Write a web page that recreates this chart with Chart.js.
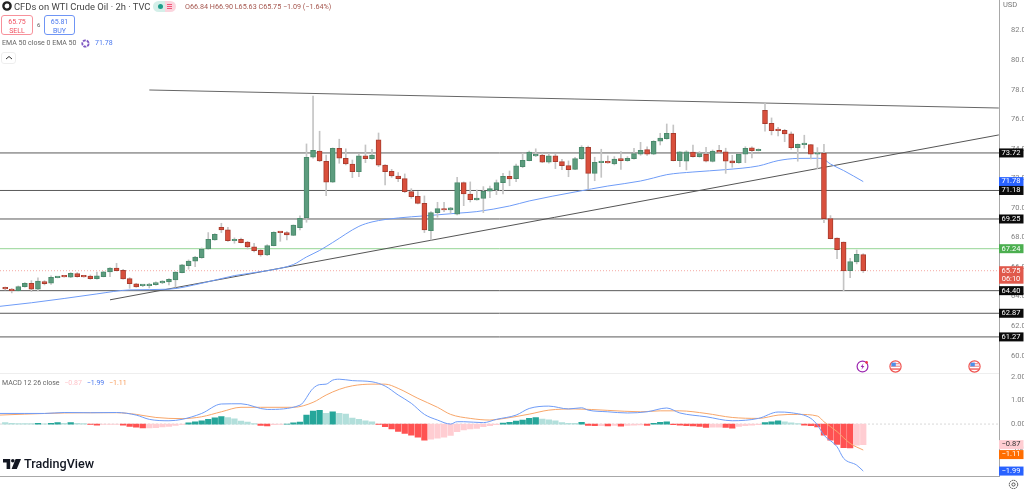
<!DOCTYPE html>
<html>
<head>
<meta charset="utf-8">
<title>CFDs on WTI Crude Oil</title>
<script src="https://cdn.jsdelivr.net/npm/chart.js@4"></script>
<style>
    html, body { margin: 0; padding: 0; background: #fff; overflow: hidden; }
    #page { position: relative; width: 1024px; height: 489px; font-family: Roboto, sans-serif; color: #555; }
    canvas { position: absolute; left: 0; }
    #priceChart { top: 0; }
    #macdChart { top: 374px; }
    .txt { position: absolute; white-space: nowrap; line-height: 1; }
    .box { position: absolute; box-sizing: border-box; border-radius: 3px; text-align: center; line-height: 1; background: #fff; }
    .icon { position: absolute; }
</style>
</head>
<body>
<div id="page">
    <canvas id="priceChart" width="1024" height="374"></canvas>
    <canvas id="macdChart" width="1024" height="115"></canvas>

    <div style="position:absolute;left:0;top:373px;width:999px;height:1px;background:#eeeeee"></div>

    <svg class="icon" style="left:2px;top:1px" width="10" height="10"><circle cx="5" cy="5" r="3.6" fill="#fff" stroke="#222" stroke-width="2.4"/></svg>
    <div class="txt" style="left:14px;top:2px;font-size:9.4px;color:#444">CFDs on WTI Crude Oil · 2h · TVC</div>
    <div style="position:absolute;left:153px;top:1px;width:23px;height:11px;border-radius:6px;background:linear-gradient(90deg,#d4efe9 50%,#fbd5de 50%)"></div>
    <div style="position:absolute;left:158px;top:4px;width:5px;height:5px;border-radius:50%;background:#1f9d8b"></div>
    <div style="position:absolute;left:167px;top:4px;width:5px;height:1px;background:#f2557a;box-shadow:0 2px 0 #f2557a,0 4px 0 #f2557a"></div>
    <div class="txt" style="left:185px;top:3px;font-size:7.2px;color:#a5564e">O66.84 H66.90 L65.63 C65.75 −1.09 (−1.64%)</div>

    <div class="box" style="left:1px;top:15px;width:32px;height:20px;border:1px solid #f7919b;color:#f0505f;font-size:7px;padding-top:3px">65.75<br><span style="display:block;margin-top:2px">SELL</span></div>
    <div class="txt" style="left:37px;top:22px;font-size:6px;color:#555">6</div>
    <div class="box" style="left:44px;top:15px;width:31px;height:20px;border:1px solid #6f95f5;color:#4a78ee;font-size:7px;padding-top:3px">65.81<br><span style="display:block;margin-top:2px">BUY</span></div>

    <div class="txt" style="left:2px;top:40px;font-size:7px;color:#666">EMA 50 close 0 EMA 50</div>
    <svg class="icon" style="left:80px;top:38px" width="11" height="11"><circle cx="5.5" cy="5.5" r="3.2" fill="none" stroke="#7e57c2" stroke-width="1.8" stroke-dasharray="3 1"/></svg>
    <div class="txt" style="left:95px;top:40px;font-size:7px;color:#4a78ee">71.78</div>
    <div class="box" style="left:1px;top:52px;width:15px;height:12px;border:1px solid #eeeeee"></div>
    <svg class="icon" style="left:5px;top:55px" width="8" height="6"><path d="M1 4 L4 1.5 L7 4" fill="none" stroke="#333" stroke-width="1"/></svg>

    <div class="txt" style="left:1003px;top:1px;font-size:7.5px;color:#777">USD</div>

    <svg class="icon" style="left:856px;top:360px" width="13" height="13"><circle cx="6.5" cy="6.5" r="5.4" fill="#fff" stroke="#9c27b0" stroke-width="1.2"/><path d="M7.5 3.2 L4.6 7 L6.4 7 L5.4 9.8 L8.4 6 L6.6 6 Z" fill="#9c27b0"/><circle cx="10.6" cy="2.4" r="1.3" fill="#f23645"/></svg>
    <svg class="icon" style="left:889px;top:360px" width="13" height="13"><circle cx="6.5" cy="6.5" r="5.6" fill="#fff" stroke="#ef5350" stroke-width="1.2"/><rect x="2" y="3" width="9" height="1.3" fill="#ef9a9a"/><rect x="2" y="5.6" width="9" height="1.3" fill="#ef9a9a"/><rect x="2" y="8.4" width="9" height="1.3" fill="#ef5350"/><rect x="2.4" y="2.6" width="4.4" height="3.8" fill="#4f8fe8"/></svg>
    <svg class="icon" style="left:968px;top:360px" width="13" height="13"><circle cx="6.5" cy="6.5" r="5.6" fill="#fff" stroke="#ef5350" stroke-width="1.2"/><rect x="2" y="3" width="9" height="1.3" fill="#ef9a9a"/><rect x="2" y="5.6" width="9" height="1.3" fill="#ef9a9a"/><rect x="2" y="8.4" width="9" height="1.3" fill="#ef5350"/><rect x="2.4" y="2.6" width="4.4" height="3.8" fill="#4f8fe8"/></svg>

    <svg class="icon" style="left:3px;top:459px" width="18" height="11"><path d="M0 0 H7.2 V10 H3.6 V3.6 H0 Z" fill="#131722"/><circle cx="9.8" cy="1.8" r="1.8" fill="#131722"/><path d="M12.6 0 H18 L13.8 10 H8.6 Z" fill="#131722"/></svg>
    <div class="txt" style="left:24px;top:458px;font-size:12.6px;font-weight:500;color:#131722">TradingView</div>

    <svg class="icon" style="left:1008px;top:479px" width="11" height="11"><circle cx="5.5" cy="5.5" r="4.2" fill="none" stroke="#444" stroke-width="1" stroke-dasharray="1.6 .6"/><circle cx="5.5" cy="5.5" r="1.6" fill="none" stroke="#444" stroke-width=".9"/></svg>
</div>

<script>
// Candles, one per 2h bar
const opens = [
    64.58,64.50,64.40,64.67,64.90,64.50,65.01,64.90,65.28,65.35,
    65.31,65.55,65.38,65.38,65.21,65.35,65.67,65.92,65.78,65.21,
    64.87,64.74,64.74,64.81,64.92,64.99,65.13,65.62,66.09,66.39,
    66.63,67.22,67.83,68.69,68.51,67.78,67.88,67.68,67.36,67.14,
    66.82,67.45,68.37,68.33,68.14,68.66,69.32,73.43,73.85,73.16,
    71.74,74.04,73.36,72.97,72.45,73.52,73.33,74.60,72.89,72.48,
    72.16,71.98,71.10,70.79,70.31,68.46,69.68,69.95,69.86,69.57,
    71.71,70.94,70.54,70.65,71.13,71.24,71.71,72.14,71.98,72.79,
    73.20,73.52,73.58,73.09,73.52,73.13,72.86,72.61,73.33,74.10,
    72.34,73.06,73.16,72.97,73.33,73.20,73.33,73.63,73.94,73.63,
    74.51,74.69,75.05,73.20,73.16,73.77,73.47,73.65,73.14,73.90,
    73.79,73.18,73.06,73.63,74.06,73.87,76.61,75.73,75.27,75.25,
    75.02,74.08,74.28,74.28,73.63,73.70,69.27,67.95,67.68,65.75,66.34,66.84
];
const closes = [
    64.52,64.40,64.67,64.90,64.50,65.04,64.87,65.31,65.33,65.33,
    65.58,65.35,65.33,65.21,65.40,65.67,65.92,65.75,65.19,64.87,
    64.65,64.77,64.83,64.94,65.04,65.17,65.65,66.14,66.41,66.68,
    67.22,67.88,68.22,68.51,67.78,67.88,67.65,67.36,67.11,66.82,
    67.45,68.35,68.33,68.17,68.83,69.30,73.43,73.90,73.18,71.74,
    74.04,73.36,72.97,72.45,73.52,73.33,73.58,72.89,72.45,72.16,
    71.98,71.10,70.76,70.31,68.51,69.68,69.95,69.86,70.00,71.71,
    70.94,70.56,70.67,71.13,71.30,71.71,72.14,71.96,72.84,73.22,
    73.77,73.58,73.09,73.52,73.13,72.86,72.59,73.33,74.10,72.34,
    73.09,73.16,73.04,73.31,73.20,73.36,73.67,73.90,73.63,74.51,
    74.73,75.05,73.20,73.79,73.79,73.47,73.67,73.16,73.84,73.77,
    73.16,73.04,73.65,74.04,73.87,73.97,75.70,75.23,75.23,75.00,
    74.08,74.31,74.35,73.63,73.72,69.27,67.92,67.18,65.73,66.36,66.86,65.75
];
const highs = [
    64.65,64.55,64.72,64.94,65.08,65.26,65.08,65.40,65.35,65.36,
    65.62,65.62,65.40,65.46,65.65,65.70,65.96,66.25,65.85,65.28,
    64.90,64.79,64.90,64.99,65.08,65.21,65.69,66.19,66.48,66.73,
    67.29,68.33,68.26,68.96,68.69,67.97,67.95,67.74,67.61,67.18,
    67.51,68.39,68.39,68.39,68.85,69.46,74.33,77.57,75.19,73.58,
    74.06,74.65,74.00,73.24,73.65,74.26,73.97,75.07,72.93,72.61,
    72.39,72.30,71.30,71.10,70.81,69.75,70.38,70.38,70.03,72.07,
    71.76,71.76,71.21,71.44,71.48,71.89,72.34,72.50,72.97,73.70,
    73.85,74.00,73.70,73.70,73.63,73.29,73.18,73.43,74.21,74.19,
    73.43,73.97,73.52,73.47,73.81,73.47,74.04,74.44,74.14,74.55,
    75.05,75.68,75.61,73.81,73.87,74.26,73.81,74.10,73.92,74.24,
    74.04,73.56,73.65,74.14,74.14,74.00,77.08,76.09,75.46,75.32,
    75.14,74.33,74.92,74.31,74.08,74.31,69.48,67.97,67.70,66.59,67.15,66.90
];
const lows = [
    64.45,64.25,64.38,64.63,64.33,64.38,64.79,64.83,65.26,65.31,
    65.28,65.31,65.31,65.17,65.17,65.33,65.35,65.73,65.17,64.56,
    64.63,64.67,64.58,64.77,64.87,64.79,64.63,65.60,65.85,66.03,
    66.59,67.20,67.81,68.33,67.74,67.61,67.63,67.22,67.02,66.73,
    66.77,67.43,67.74,67.83,68.12,68.51,69.03,73.36,73.13,70.83,
    71.72,73.02,72.91,72.05,72.11,73.06,73.29,72.79,71.55,72.07,
    71.78,71.03,70.65,70.27,68.33,67.83,69.37,69.75,69.64,69.52,
    70.15,70.40,70.52,69.68,70.69,70.90,70.94,71.50,71.78,72.72,
    73.18,73.47,73.06,73.02,72.66,72.59,72.11,72.59,73.29,71.26,
    71.84,72.07,73.02,72.91,72.61,73.16,73.29,73.56,73.56,73.60,
    74.26,74.65,73.18,72.79,72.57,73.43,73.43,73.11,73.11,73.74,
    72.34,72.75,73.02,73.06,73.38,73.85,75.19,74.94,74.87,74.48,
    73.97,73.16,74.04,73.31,72.64,69.00,67.90,66.57,64.40,65.28,66.21,65.63
];

// EMA 50, read at these bars
const emaBars = [-1,4,9,14,19,25,30,35,40,44,46,48,50,54,56,60,64,69,72,77,80,87,92,97,99,101,105,110,115,118,121,124,125,126,128,131];
const emaValues = [63.33,63.58,63.87,64.18,64.45,64.50,64.90,65.42,65.75,66.17,66.68,67.12,67.66,68.75,69.05,69.32,69.46,69.64,69.75,70.13,70.47,71.08,71.48,71.82,72.03,72.25,72.43,72.59,72.84,73.20,73.35,73.36,73.28,72.97,72.53,71.78];

// Drawn levels and trend lines
const blackLevels = [73.72, 71.18, 69.25, 64.40, 62.87, 61.27];
const greenLevel = 67.24;
const lastClose = 65.75;
const emaLast = 71.78;
const upperTrendBars = [22, 151.7];
const upperTrendPrices = [77.98, 76.76];
const lowerTrendBars = [16, 151.7];
const lowerTrendPrices = [63.78, 74.94];

// MACD pane
const histValues = [
    .06,.03,.02,.02,.02,.03,.01,.03,.06,.03,
    .06,.03,.02,-.02,-.05,-.02,-.01,-.01,-.05,-.1,
    -.13,-.16,-.16,-.15,-.12,-.1,-.06,-.02,.05,.1,
    .14,.2,.26,.32,.27,.22,.13,.08,.02,-.06,
    -.08,-.03,-.02,0,.05,.08,.38,.55,.58,.45,
    .52,.46,.42,.25,.2,.14,.09,-.02,-.11,-.21,
    -.31,-.4,-.47,-.56,-.68,-.64,-.6,-.56,-.48,-.32,
    -.25,-.21,-.18,-.11,-.07,-.03,.04,.07,.13,.17,
    .24,.27,.21,.18,.14,.06,.03,.03,.07,-.06,
    -.07,-.07,-.08,-.06,-.09,-.06,-.05,-.04,-.06,.03,
    .07,.1,-.03,-.05,-.07,-.08,-.1,-.14,-.13,-.13,
    -.14,-.17,-.1,-.07,-.05,-.03,.06,.1,.14,.09,
    .05,.02,-.05,-.07,-.12,-.47,-.68,-.86,-1.0,-1.01,-.89,-.87
];
const macdBars = [-1,3,6,9,13,17,20,22,25,27,30,33,36,40,45,47,48,49,50,51,53,56,58,60,62,64,66,68,69,70,73,75,78,80,83,86,88,89,92,95,98,101,103,107,111,115,118,120,123,124,125,127,128,130,131];
const macdValues = [.45,.45,.45,.49,.48,.49,.38,.2,.14,.2,.45,.85,.86,.62,.8,1.51,1.67,1.69,1.86,1.9,1.84,1.79,1.61,1.23,.88,.41,.17,0,.1,.1,.06,.2,.38,.66,.76,.64,.69,.59,.52,.47,.52,.68,.47,.31,.14,.24,.51,.48,.24,-.04,-.47,-.96,-1.45,-1.74,-1.99];
const signalBars = [-1,3,9,15,17,20,23,27,30,33,36,39,44,47,49,51,53,56,58,60,63,66,68,71,74,76,80,83,87,92,97,100,103,107,111,115,118,121,124,125,127,129,131];
const signalValues = [.38,.42,.47,.48,.48,.41,.28,.23,.31,.52,.71,.71,.71,.92,1.23,1.47,1.62,1.69,1.69,1.51,1.09,.71,.41,.24,.17,.23,.42,.59,.64,.58,.52,.56,.56,.45,.28,.24,.38,.41,.34,.1,-.32,-.82,-1.1];

// Time axis labels and the bars they sit on
const tickBars = [4,10,16,22,28,34,40,46,52,57,64,70,76,82,88,94,100,105,111,116,123,129,135,141,147];
const tickNames = ['12:00','10','12:00','11','12:00','12','12:00','13','12:00','15','12:00','17','12:00','18','12:00','19','12:00','20','12:00','22','12:00','24','12:00','25','12:00'];

const FIRST_BAR = -0.794;
const LAST_BAR = 151.725;
const tickFont = { family: 'Roboto', size: 7.5 };

function points(bars, values) {
    return bars.map(function (b, i) { return { x: b, y: values[i] }; });
}

function lineSet(data, color, width, extra) {
    return Object.assign({
        type: 'line',
        data: data,
        borderColor: color,
        borderWidth: width,
        pointRadius: 0,
        order: 3
    }, extra || {});
}

function levelLine(value, color, extra) {
    return lineSet(points([FIRST_BAR, LAST_BAR], [value, value]), color, 1, extra);
}

// Price and indicator tags on the right axis
function tagPlugin(scaleId, tags) {
    return {
        id: 'tags' + scaleId,
        afterDraw: function (chart) {
            const ctx = chart.ctx;
            const scale = chart.scales[scaleId];
            tags.forEach(function (t) {
                const h = t.second ? 17.5 : 9;
                const y = scale.getPixelForValue(t.value) + (t.shift || 0);
                ctx.fillStyle = t.bg;
                ctx.fillRect(999, y - 4.5, 24.5, h);
                ctx.fillStyle = t.fg;
                ctx.font = '7.5px Roboto';
                ctx.textAlign = 'center';
                ctx.textBaseline = 'middle';
                ctx.fillText(t.label, 1011, y);
                if (t.second) ctx.fillText(t.second, 1011, y + 8.5);
            });
        }
    };
}

function rightAxis(min, max, step) {
    return {
        position: 'right',
        min: min,
        max: max,
        grid: { display: false },
        border: { display: true, color: '#a8a8a8' },
        afterBuildTicks: function (s) {
            // keep ticks off the very top of the pane
            s.ticks = s.ticks.filter(function (t) { return t.value < 84; });
        },
        ticks: {
            stepSize: step,
            includeBounds: false,
            padding: 4,
            color: '#808080',
            font: tickFont,
            callback: function (v) { return v.toFixed(2); }
        },
        afterFit: function (s) {
            s.width = 25;
            s.paddingTop = 0;
            s.paddingBottom = 0;
        }
    };
}

const baseOptions = {
    responsive: false,
    animation: false,
    events: [],
    layout: { padding: 0 },
    plugins: { legend: { display: false }, tooltip: { enabled: false } }
};

// Main pane
new Chart(document.getElementById('priceChart'), {
    type: 'bar',
    data: {
        datasets: [
            {
                data: opens.map(function (o, i) { return { x: i, y: [Math.min(o, closes[i]), Math.max(o, closes[i])] }; }),
                grouped: false,
                barThickness: 5,
                backgroundColor: opens.map(function (o, i) { return closes[i] >= o ? '#5c9c7e' : '#d94f3c'; }),
                borderColor: opens.map(function (o, i) { return closes[i] >= o ? '#4b8a6c' : '#a83c2e'; }),
                borderWidth: 1,
                borderSkipped: false,
                minBarLength: 1.5,
                order: 1
            },
            {
                data: opens.map(function (o, i) { return { x: i, y: [lows[i], highs[i]] }; }),
                grouped: false,
                barThickness: 1,
                backgroundColor: '#c4c4c4',
                order: 2
            },
            lineSet(points(emaBars, emaValues), '#6f9cf7', 1, { cubicInterpolationMode: 'monotone' }),
            lineSet(points(upperTrendBars, upperTrendPrices), '#666666', 1),
            lineSet(points(lowerTrendBars, lowerTrendPrices), '#555555', 1),
            levelLine(greenLevel, '#95d695'),
            levelLine(lastClose, '#f5a9a2', { borderDash: [1, 2] })
        ].concat(blackLevels.map(function (v) { return levelLine(v, '#5a5a5a', { borderWidth: 1 }); }))
    },
    options: Object.assign({}, baseOptions, {
        scales: {
            x: { type: 'linear', display: false, offset: false, min: FIRST_BAR, max: LAST_BAR },
            y: rightAxis(58.76, 84.07, 2)
        }
    }),
    plugins: [tagPlugin('y', [
        { value: 73.72, label: '73.72', bg: '#0b0b0b', fg: '#fff' },
        { value: emaLast, label: '71.78', bg: '#2962ff', fg: '#fff' },
        { value: 71.18, label: '71.18', bg: '#0b0b0b', fg: '#fff' },
        { value: 69.25, label: '69.25', bg: '#0b0b0b', fg: '#fff' },
        { value: greenLevel, label: '67.24', bg: '#4caf50', fg: '#fff' },
        { value: lastClose, label: '65.75', second: '06:10', bg: '#e0594c', fg: '#fff' },
        { value: 64.40, label: '64.40', bg: '#0b0b0b', fg: '#fff' },
        { value: 62.87, label: '62.87', bg: '#0b0b0b', fg: '#fff' },
        { value: 61.27, label: '61.27', bg: '#0b0b0b', fg: '#fff' }
    ])]
});

// MACD pane, bar colours follow rising or falling histogram
function histColor(v, i) {
    const prev = i > 0 ? histValues[i - 1] : v;
    if (v >= 0) return v > prev ? '#26a69a' : '#b2dfdb';
    return v < prev ? '#ff5252' : '#ffcdd2';
}

new Chart(document.getElementById('macdChart'), {
    type: 'bar',
    data: {
        datasets: [
            {
                data: histValues.map(function (v, i) { return { x: i, y: v }; }),
                grouped: false,
                barThickness: 5.6,
                backgroundColor: histValues.map(histColor),
                order: 2
            },
            lineSet(points(macdBars, macdValues), '#6f9cf7', 1, { cubicInterpolationMode: 'monotone', order: 1 }),
            lineSet(points(signalBars, signalValues), '#f7a66a', 1, { cubicInterpolationMode: 'monotone', order: 1 }),
            levelLine(0, '#d8d8d8', { borderDash: [2, 2] })
        ]
    },
    options: Object.assign({}, baseOptions, {
        scales: {
            x: {
                type: 'linear',
                offset: false,
                min: FIRST_BAR,
                max: LAST_BAR,
                grid: { display: false },
                border: { display: true, color: '#a8a8a8' },
                afterBuildTicks: function (s) {
                    s.ticks = tickBars.map(function (b) { return { value: b }; });
                },
                ticks: {
                    autoSkip: false,
                    maxRotation: 0,
                    padding: 3,
                    color: '#808080',
                    font: tickFont,
                    callback: function (v) { return tickNames[tickBars.indexOf(v)]; }
                },
                afterFit: function (s) {
                    s.height = 12.5;
                    s.paddingLeft = 0;
                    s.paddingRight = 0;
                }
            },
            y: rightAxis(-2.22, 2.12, 1)
        }
    }),
    plugins: [tagPlugin('y', [
        { value: -0.87, label: '−0.87', bg: '#ffcdd2', fg: '#333' },
        { value: -1.11, label: '−1.11', shift: 4.3, bg: '#ff6d00', fg: '#fff' },
        { value: -1.99, label: '−1.99', bg: '#2962ff', fg: '#fff' }
    ])]
});

// Legend row above the MACD pane
const macdLegend = document.createElement('div');
macdLegend.className = 'txt';
macdLegend.style.cssText = 'left:2px;top:380px;font-size:7px;color:#666';
macdLegend.innerHTML = 'MACD 12 26 close <span style="color:#ffc4ca;margin-left:3px">−0.87</span> <span style="color:#4a78ee;margin-left:3px">−1.99</span> <span style="color:#f79a58;margin-left:3px">−1.11</span>';
document.getElementById('page').appendChild(macdLegend);
</script>
</body>
</html>
